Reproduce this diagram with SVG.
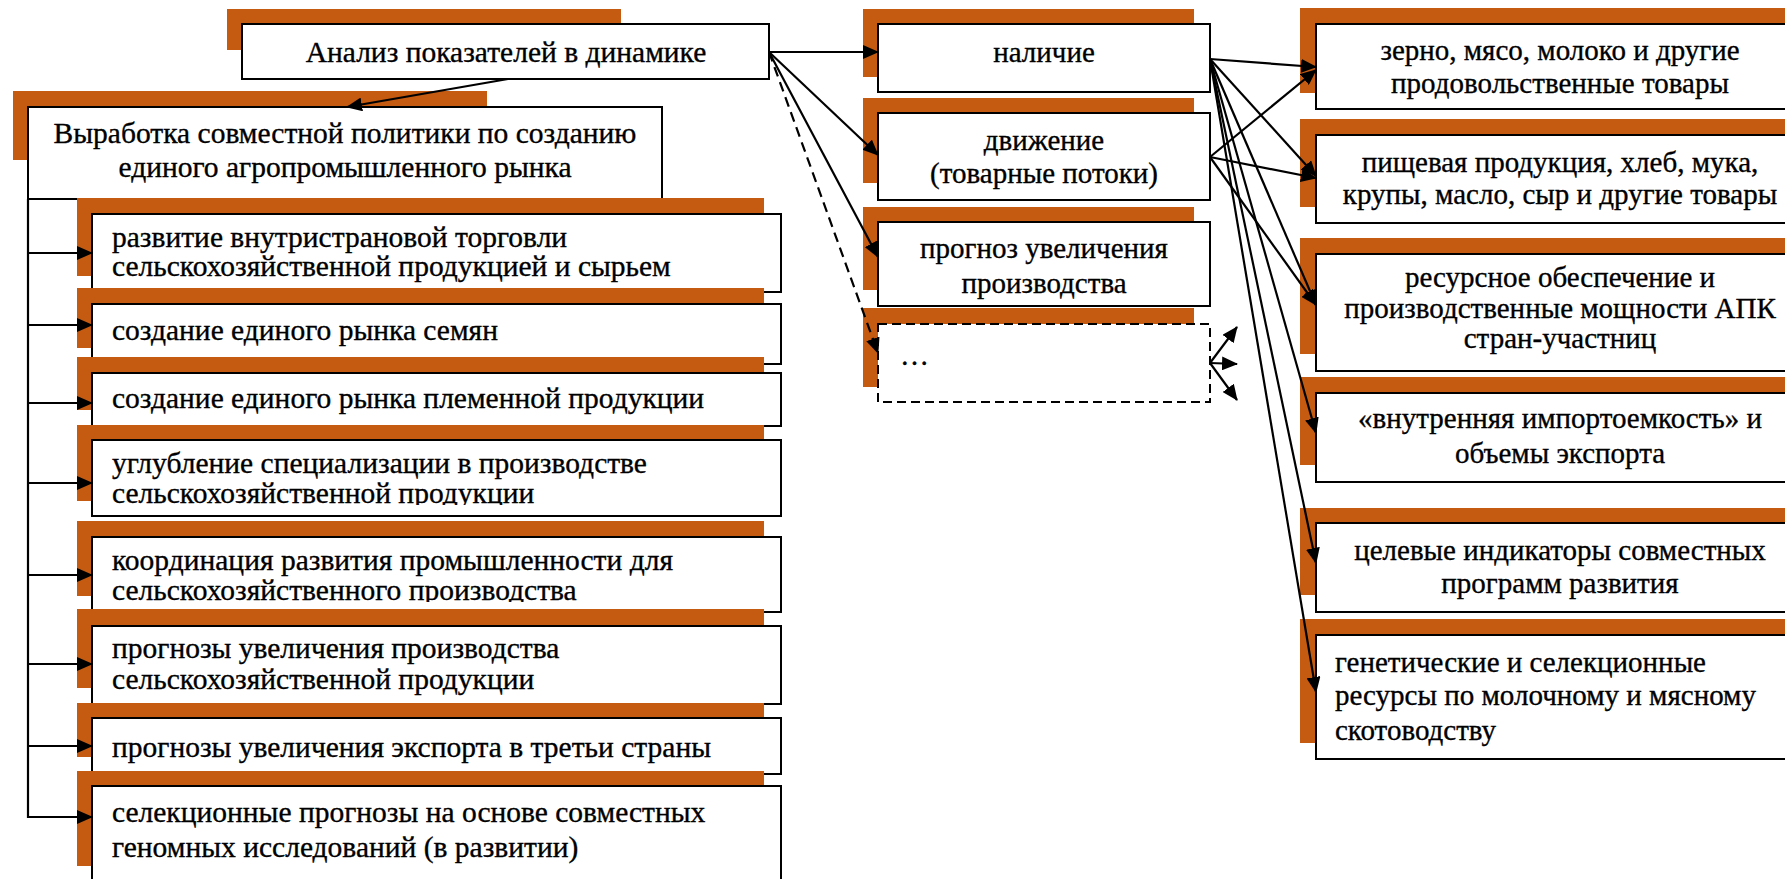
<svg xmlns="http://www.w3.org/2000/svg" width="1785" height="879" viewBox="0 0 1785 879">
<style>
.sh{fill:#C55A11}
.bx{fill:#fff;stroke:#000;stroke-width:2}
.dbx{fill:#fff;stroke:#000;stroke-width:2;stroke-dasharray:9 5}
.t{font-family:'Liberation Serif','Tinos','Times New Roman','DejaVu Serif',serif;font-size:29px;fill:#000;stroke:#000;stroke-width:0.35}
.lt{font-size:29.5px}
.c{text-anchor:middle}
.ln{fill:none;stroke:#000;stroke-width:2.2}
.ar{fill:none;stroke:#000;stroke-width:2.2;marker-end:url(#ah)}
.da{fill:none;stroke:#000;stroke-width:2.2;stroke-dasharray:10 6;marker-end:url(#ah)}
</style>
<defs>
<marker id="ah" markerUnits="userSpaceOnUse" markerWidth="16" markerHeight="14" refX="15" refY="7" orient="auto">
<path d="M0,0 L16,7 L0,14 z" fill="#000"/>
</marker>
<clipPath id="clip4"><rect x="92" y="440" width="689" height="65"/></clipPath>
<clipPath id="clip5"><rect x="92" y="537" width="689" height="65"/></clipPath>
</defs>
<rect width="1785" height="879" fill="#fff"/>

<g id="n-analiz">
<rect class="sh" x="227" y="9" width="394" height="41"/>
<rect class="bx" x="242" y="24" width="527" height="55"/>
<text class="t lt c" x="506" y="62">Анализ показателей в динамике</text>
</g>

<g id="n-vyrabotka">
<rect class="sh" x="13" y="91" width="474" height="69"/>
<rect class="bx" x="28" y="107" width="634" height="92"/>
<text class="t lt c" x="345" y="143">Выработка совместной политики по созданию</text>
<text class="t lt c" x="345" y="177">единого агропромышленного рынка</text>
</g>

<g id="l1">
<rect class="sh" x="77" y="198" width="687" height="78"/>
<rect class="bx" x="92" y="214" width="689" height="78"/>
<text class="t lt" x="112" y="247">развитие внутристрановой торговли</text>
<text class="t lt" x="112" y="276">сельскохозяйственной продукцией и сырьем</text>
</g>
<g id="l2">
<rect class="sh" x="77" y="288" width="687" height="60"/>
<rect class="bx" x="92" y="304" width="689" height="60"/>
<text class="t lt" x="112" y="340">создание единого рынка семян</text>
</g>
<g id="l3">
<rect class="sh" x="77" y="357" width="687" height="53"/>
<rect class="bx" x="92" y="373" width="689" height="53"/>
<text class="t lt" x="112" y="408">создание единого рынка племенной продукции</text>
</g>
<g id="l4">
<rect class="sh" x="77" y="425" width="687" height="76"/>
<rect class="bx" x="92" y="440" width="689" height="76"/>
<g clip-path="url(#clip4)">
<text class="t lt" x="112" y="473">углубление специализации в производстве</text>
<text class="t lt" x="112" y="503">сельскохозяйственной продукции</text>
</g>
</g>
<g id="l5">
<rect class="sh" x="77" y="521" width="687" height="75"/>
<rect class="bx" x="92" y="537" width="689" height="75"/>
<g clip-path="url(#clip5)">
<text class="t lt" x="112" y="570">координация развития промышленности для</text>
<text class="t lt" x="112" y="600">сельскохозяйственного производства</text>
</g>
</g>
<g id="l6">
<rect class="sh" x="77" y="609" width="687" height="79"/>
<rect class="bx" x="92" y="626" width="689" height="78"/>
<text class="t lt" x="112" y="658">прогнозы увеличения производства</text>
<text class="t lt" x="112" y="689">сельскохозяйственной продукции</text>
</g>
<g id="l7">
<rect class="sh" x="77" y="703" width="687" height="54"/>
<rect class="bx" x="92" y="718" width="689" height="56"/>
<text class="t lt" x="112" y="757">прогнозы увеличения экспорта в третьи страны</text>
</g>
<g id="l8">
<rect class="sh" x="77" y="771" width="687" height="95"/>
<rect class="bx" x="92" y="786" width="689" height="110"/>
<text class="t lt" x="112" y="822">селекционные прогнозы на основе совместных</text>
<text class="t lt" x="112" y="857">геномных исследований (в развитии)</text>
</g>

<g id="m1">
<rect class="sh" x="863" y="9" width="331" height="68"/>
<rect class="bx" x="878" y="24" width="332" height="68"/>
<text class="t c" x="1044" y="62">наличие</text>
</g>
<g id="m2">
<rect class="sh" x="863" y="98" width="331" height="85"/>
<rect class="bx" x="878" y="113" width="332" height="87"/>
<text class="t c" x="1044" y="150">движение</text>
<text class="t c" x="1044" y="183">(товарные потоки)</text>
</g>
<g id="m3">
<rect class="sh" x="863" y="207" width="331" height="83"/>
<rect class="bx" x="878" y="222" width="332" height="84"/>
<text class="t c" x="1044" y="258">прогноз увеличения</text>
<text class="t c" x="1044" y="293">производства</text>
</g>
<g id="m4">
<rect class="sh" x="863" y="308" width="331" height="79"/>
<rect class="dbx" x="878" y="324" width="332" height="78"/>
<text class="t" x="900" y="365">…</text>
</g>

<g id="r1">
<rect class="sh" x="1300" y="8" width="500" height="85"/>
<rect class="bx" x="1316" y="24" width="490" height="85"/>
<text class="t c" x="1560" y="60">зерно, мясо, молоко и другие</text>
<text class="t c" x="1560" y="93">продовольственные товары</text>
</g>
<g id="r2">
<rect class="sh" x="1300" y="119" width="500" height="88"/>
<rect class="bx" x="1316" y="135" width="490" height="88"/>
<text class="t c" x="1560" y="172">пищевая продукция, хлеб, мука,</text>
<text class="t c" x="1560" y="204">крупы, масло, сыр и другие товары</text>
</g>
<g id="r3">
<rect class="sh" x="1300" y="238" width="500" height="116"/>
<rect class="bx" x="1316" y="254" width="490" height="117"/>
<text class="t c" x="1560" y="287">ресурсное обеспечение и</text>
<text class="t c" x="1560" y="318">производственные мощности АПК</text>
<text class="t c" x="1560" y="348">стран-участниц</text>
</g>
<g id="r4">
<rect class="sh" x="1300" y="377" width="500" height="88"/>
<rect class="bx" x="1316" y="393" width="490" height="89"/>
<text class="t c" x="1560" y="428">«внутренняя импортоемкость» и</text>
<text class="t c" x="1560" y="463">объемы экспорта</text>
</g>
<g id="r5">
<rect class="sh" x="1300" y="508" width="500" height="87"/>
<rect class="bx" x="1316" y="523" width="490" height="89"/>
<text class="t c" x="1560" y="560">целевые индикаторы совместных</text>
<text class="t c" x="1560" y="593">программ развития</text>
</g>
<g id="r6">
<rect class="sh" x="1300" y="619" width="500" height="124"/>
<rect class="bx" x="1316" y="635" width="490" height="124"/>
<text class="t" x="1335" y="672">генетические и селекционные</text>
<text class="t" x="1335" y="705">ресурсы по молочному и мясному</text>
<text class="t" x="1335" y="740">скотоводству</text>
</g>

<g id="connectors">
<path class="ar" d="M508,79 L347,107"/>
<path class="ar" d="M769,52 L878,52"/>
<path class="ar" d="M769,52 L878,155"/>
<path class="ar" d="M769,52 L878,257"/>
<path class="da" d="M769,52 L878,353"/>
<path class="ar" d="M1210,363 L1237,327"/>
<path class="ar" d="M1210,363 L1237,364"/>
<path class="ar" d="M1210,363 L1237,400"/>
<path class="ar" d="M1210,59 L1316,67"/>
<path class="ar" d="M1210,59 L1316,176"/>
<path class="ar" d="M1210,59 L1316,305"/>
<path class="ar" d="M1210,59 L1316,433"/>
<path class="ar" d="M1210,59 L1316,563"/>
<path class="ar" d="M1210,59 L1316,692"/>
<path class="ar" d="M1210,157 L1316,70"/>
<path class="ar" d="M1210,157 L1316,178"/>
<path class="ar" d="M1210,157 L1316,305"/>
<path class="ln" d="M28,199 L28,818"/>
<path class="ar" d="M28,253 L92,253"/>
<path class="ar" d="M28,325 L92,325"/>
<path class="ar" d="M28,403 L92,403"/>
<path class="ar" d="M28,483 L92,483"/>
<path class="ar" d="M28,575 L92,575"/>
<path class="ar" d="M28,664 L92,664"/>
<path class="ar" d="M28,746 L92,746"/>
<path class="ar" d="M28,817 L92,817"/>
</g>
</svg>
